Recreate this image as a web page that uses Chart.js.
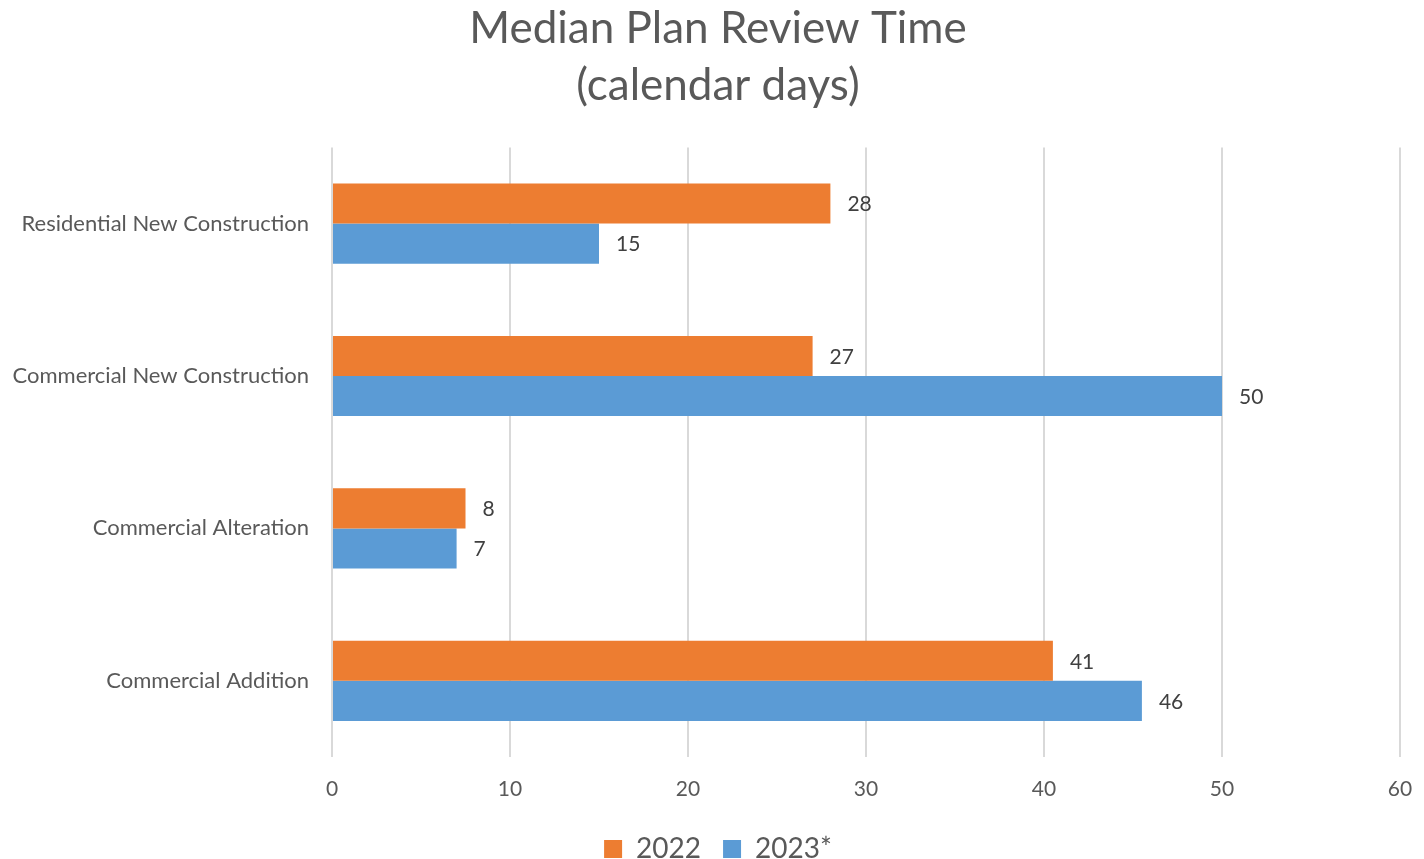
<!DOCTYPE html>
<html>
<head>
<meta charset="utf-8">
<script src="https://cdn.jsdelivr.net/npm/chart.js@4"></script>
<style>
  html, body { margin: 0; padding: 0; background: #fff; }
  #wrap { width: 1424px; height: 859px; }
</style>
</head>
<body>
<div id="wrap"><canvas id="chart" width="1424" height="859"></canvas></div>
<script>
// Chart data
const categories = ['Residential New Construction', 'Commercial New Construction', 'Commercial Alteration', 'Commercial Addition'];
const values2022 = [28, 27, 7.5, 40.5];
const values2023 = [15, 50, 7, 45.5];
const xTicks = [0, 10, 20, 30, 40, 50, 60];

const FONT = 'Lato, "Open Sans", sans-serif';
const TEXT = '#595959';

// Draw value labels at the end of each bar
const valueLabels = {
    id: 'valueLabels',
    afterDatasetsDraw(chart) {
        const ctx = chart.ctx;
        ctx.save();
        ctx.font = '21px ' + FONT;
        ctx.fillStyle = '#404040';
        ctx.textAlign = 'left';
        ctx.textBaseline = 'middle';
        chart.data.datasets.forEach((ds, i) => {
            chart.getDatasetMeta(i).data.forEach((bar, j) => {
                ctx.fillText(Math.round(ds.data[j]).toString(), bar.x + 17, bar.y + 1);
            });
        });
        ctx.restore();
    }
};

new Chart(document.getElementById('chart'), {
    type: 'bar',
    data: {
        labels: categories,
        datasets: [
            { label: '2022', data: values2022, backgroundColor: '#ED7D31' },
            { label: '2023*', data: values2023, backgroundColor: '#5B9BD5' }
        ]
    },
    options: {
        indexAxis: 'y',
        responsive: false,
        animation: false,
        layout: { padding: { top: 0, right: 0, bottom: -14, left: 12 } },
        datasets: { bar: { categoryPercentage: 0.526, barPercentage: 1 } },
        plugins: {
            title: {
                display: true,
                text: ['Median Plan Review Time', '(calendar days)'],
                color: TEXT,
                font: { family: FONT, size: 44, weight: 'normal', lineHeight: 1.3 },
                padding: { top: 0, bottom: 33 }
            },
            legend: {
                position: 'bottom',
                labels: {
                    color: TEXT,
                    font: { family: FONT, size: 28 },
                    boxWidth: 18,
                    boxHeight: 18,
                    padding: 22
                }
            },
            tooltip: { enabled: false }
        },
        scales: {
            x: {
                min: 0,
                max: 60,
                afterBuildTicks: (scale) => { scale.ticks = xTicks.map(v => ({ value: v })); },
                afterFit: (scale) => {
                    scale.height = 56;
                    scale.paddingLeft = 0;
                    scale.paddingRight = 24;
                },
                grid: { color: '#d9d9d9', lineWidth: 2, drawTicks: false },
                border: { display: false },
                ticks: { color: TEXT, font: { family: FONT, size: 21 }, padding: 20 }
            },
            y: {
                grid: { display: false },
                border: { display: false },
                afterFit: (scale) => { scale.width = 320; },
                ticks: { color: TEXT, font: { family: FONT, size: 22 }, padding: 15 }
            }
        }
    },
    plugins: [valueLabels]
});
</script>
</body>
</html>
